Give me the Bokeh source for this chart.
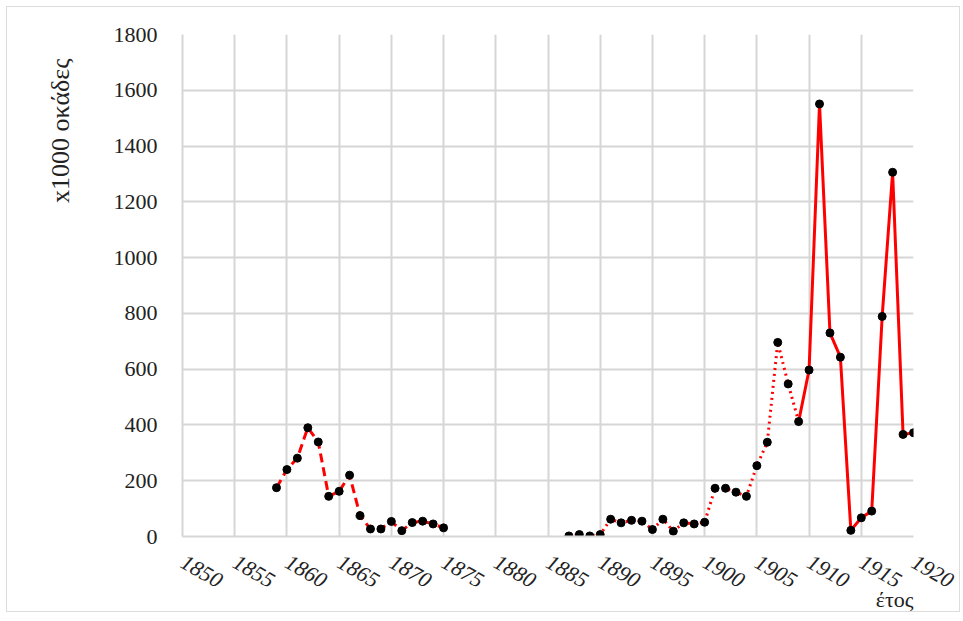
import math
from bokeh.plotting import figure
from bokeh.models import FixedTicker, Range1d, Title
from bokeh.embed import file_html
from bokeh.resources import INLINE

# Data (x1000 okades per year)
years_dashed = [1859, 1860, 1861, 1862, 1863, 1864, 1865, 1866, 1867, 1868, 1869, 1870, 1871, 1872, 1873, 1874, 1875]
vals_dashed = [175, 240, 281, 390, 339, 144, 162, 220, 75, 27, 27, 54, 21, 50, 55, 45, 31]

years_dotted = [1887, 1888, 1889, 1890, 1891, 1892, 1893, 1894, 1895, 1896, 1897, 1898, 1899, 1900,
                1901, 1902, 1903, 1904, 1905, 1906, 1907, 1908, 1909]
vals_dotted = [2, 7, 2, 7, 62, 49, 58, 55, 25, 62, 19, 49, 45, 51,
               173, 173, 159, 144, 254, 338, 696, 547, 412]

years_solid = [1909, 1910, 1911, 1912, 1913, 1914, 1915, 1916, 1917, 1918, 1919, 1920]
vals_solid = [412, 597, 1551, 730, 643, 22, 67, 91, 789, 1306, 366, 372]

x_ticks = list(range(1850, 1921, 5))
y_ticks = list(range(0, 1801, 200))
y_label = "x1000 οκάδες"
x_label = "έτος"

FONT = "Liberation Serif"
GRID = "#d6d6d6"
W, H = 954, 606

p = figure(width=W, height=H, output_backend="svg", toolbar_location=None,
           x_range=Range1d(1850, 1920), y_range=Range1d(0, 1800),
           min_border_left=174, min_border_right=W - 174 - 732, min_border_top=27,
           min_border_bottom=H - 27 - 502)
p.styles = {"border": "1px solid #dcdcdc", "margin-left": "6px", "margin-top": "6px"}
p.outline_line_color = None
p.background_fill_color = "white"
p.border_fill_color = "white"

p.xaxis.ticker = FixedTicker(ticks=x_ticks)
p.yaxis.ticker = FixedTicker(ticks=y_ticks)
p.xgrid.ticker = FixedTicker(ticks=x_ticks)
p.ygrid.ticker = FixedTicker(ticks=y_ticks)
for g in (p.xgrid, p.ygrid):
    g.grid_line_color = GRID
    g.grid_line_width = 2

for ax in (p.xaxis, p.yaxis):
    ax.axis_line_color = GRID
    ax.axis_line_width = 2
    ax.major_tick_line_color = None
    ax.minor_tick_line_color = None
    ax.major_label_text_font = FONT
    ax.major_label_text_font_size = "22px"
    ax.major_label_text_color = "#222222"

p.xaxis.major_label_text_font_style = "italic"
p.xaxis.major_label_orientation = -0.52
p.xaxis.major_label_standoff = 18
p.yaxis.major_label_standoff = 19

# lines
p.line(years_dashed, vals_dashed, line_color="red", line_width=3, line_dash="9 5")
p.line(years_dotted, vals_dotted, line_color="red", line_width=3, line_dash="2 4")
p.line(years_solid, vals_solid, line_color="red", line_width=3)

all_years = years_dashed + years_dotted + years_solid[1:]
all_vals = vals_dashed + vals_dotted + vals_solid[1:]
p.scatter(all_years, all_vals, size=8, fill_color="black", line_color="black")

p.add_layout(Title(text=y_label, align="right", offset=24, standoff=72,
                   text_font=FONT, text_font_size="26px", text_font_style="normal",
                   text_color="#222222"), "left")
p.add_layout(Title(text=x_label, align="right", standoff=-28,
                   text_font=FONT, text_font_size="22px", text_font_style="normal",
                   text_color="#222222"), "below")

open("out.html", "w").write(file_html(p, INLINE))
